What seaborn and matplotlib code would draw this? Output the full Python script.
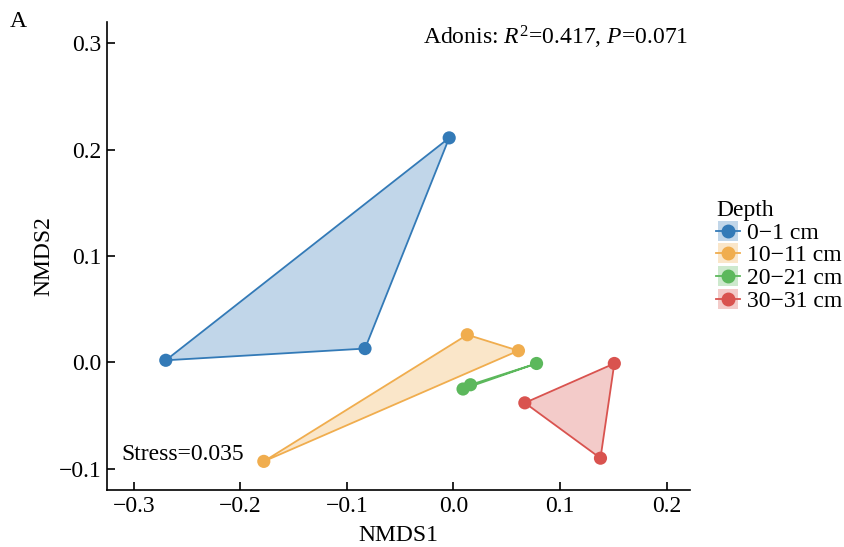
import numpy as np
import pandas as pd
import matplotlib
matplotlib.use("Agg")
import matplotlib.pyplot as plt
import seaborn as sns
from matplotlib.lines import Line2D
from matplotlib.legend_handler import HandlerTuple

# ---- data ----
depths = ["0\u22121 cm", "10\u221211 cm", "20\u221221 cm", "30\u221231 cm"]
colors = ["#337ab7", "#f0ad4e", "#5cb85c", "#d9534f"]
nmds1_0_1 = [-0.004, -0.270, -0.083]
nmds2_0_1 = [0.211, 0.002, 0.013]
nmds1_10_11 = [0.013, 0.061, -0.178]
nmds2_10_11 = [0.026, 0.011, -0.093]
nmds1_20_21 = [0.078, 0.016, 0.009]
nmds2_20_21 = [-0.001, -0.021, -0.025]
nmds1_30_31 = [0.151, 0.067, 0.138]
nmds2_30_31 = [-0.001, -0.038, -0.090]
x_ticks = [-0.3, -0.2, -0.1, 0.0, 0.1, 0.2]
y_ticks = [-0.1, 0.0, 0.1, 0.2, 0.3]

xs = [nmds1_0_1, nmds1_10_11, nmds1_20_21, nmds1_30_31]
ys = [nmds2_0_1, nmds2_10_11, nmds2_20_21, nmds2_30_31]
df = pd.DataFrame({
    "NMDS1": sum(xs, []),
    "NMDS2": sum(ys, []),
    "Depth": sum([[d] * len(x) for d, x in zip(depths, xs)], []),
})

def hull(pts):
    pts = sorted(set(pts))
    if len(pts) <= 2:
        return pts
    def cross(o, a, b):
        return (a[0]-o[0])*(b[1]-o[1]) - (a[1]-o[1])*(b[0]-o[0])
    lower, upper = [], []
    for p in pts:
        while len(lower) >= 2 and cross(lower[-2], lower[-1], p) <= 0:
            lower.pop()
        lower.append(p)
    for p in reversed(pts):
        while len(upper) >= 2 and cross(upper[-2], upper[-1], p) <= 0:
            upper.pop()
        upper.append(p)
    return lower[:-1] + upper[:-1]

plt.rcParams["font.family"] = ["Liberation Serif", "DejaVu Serif"]
plt.rcParams["mathtext.fontset"] = "custom"
plt.rcParams["mathtext.rm"] = "Liberation Serif"
plt.rcParams["mathtext.it"] = "Liberation Serif:italic"

FS = 17
fig = plt.figure(figsize=(8.44, 5.47), dpi=100)
ax = fig.add_axes([0.127, 0.104, 0.8175 - 0.127, 0.96 - 0.104])

for d, c in zip(depths, colors):
    sub = df[df["Depth"] == d]
    h = hull(list(zip(sub["NMDS1"], sub["NMDS2"])))
    hx = [p[0] for p in h] + [h[0][0]]
    hy = [p[1] for p in h] + [h[0][1]]
    ax.fill(hx, hy, color=c, alpha=0.3, lw=0, zorder=1)
    ax.plot(hx, hy, color=c, lw=1.3, zorder=2)

sns.scatterplot(data=df, x="NMDS1", y="NMDS2", hue="Depth", hue_order=depths,
                palette=colors, s=90, edgecolor="none", ax=ax, legend=False, zorder=3)

ax.set_xlim(-0.325, 0.222)
ax.set_ylim(-0.12, 0.32)
ax.set_xticks(x_ticks)
ax.set_yticks(y_ticks)
ax.set_xticklabels([f"{t:.1f}".replace("-", "\u2212") for t in x_ticks])
ax.set_yticklabels([f"{t:.1f}".replace("-", "\u2212") for t in y_ticks])
ax.tick_params(direction="in", length=6, width=1.2, labelsize=FS, colors="black", pad=4)
for s in ["top", "right"]:
    ax.spines[s].set_visible(False)
for s in ["left", "bottom"]:
    ax.spines[s].set_linewidth(1.2)
ax.set_xlabel("NMDS1", fontsize=FS, labelpad=6)
ax.set_ylabel("NMDS2", fontsize=FS, labelpad=3)

ax.text(0.2205, 0.305, r"Adonis: $R^2$=0.417, $P$=0.071", fontsize=FS, ha="right", va="center")
ax.text(-0.312, -0.087, "Stress=0.035", fontsize=FS, ha="left", va="center")
fig.text(0.012, 0.96, "A", fontsize=FS, ha="left", va="center")

handles = []
for c in colors:
    sq = Line2D([], [], color=c, alpha=0.3, lw=0, marker="s", markersize=15,
                markeredgewidth=0)
    ln = Line2D([], [], color=c, lw=1.3, marker="o", markersize=9)
    handles.append((sq, ln))
leg = ax.legend(handles, depths, title="Depth", loc="center left",
                bbox_to_anchor=(1.025, 0.5), frameon=False, fontsize=FS,
                title_fontsize=FS, handler_map={tuple: HandlerTuple(ndivide=1, pad=0)},
                handlelength=1.0, handletextpad=0.3, labelspacing=0.05, borderpad=0)
leg._legend_box.align = "left"

fig.savefig("out.png", dpi=100)
